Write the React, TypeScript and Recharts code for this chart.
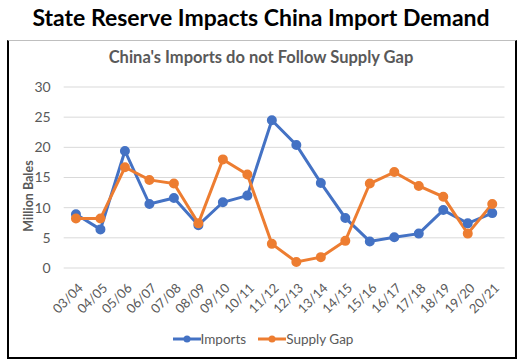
import React from "react";
import { LineChart, Line, XAxis, YAxis, CartesianGrid } from "recharts";

const seasons = ["03/04","04/05","05/06","06/07","07/08","08/09","09/10","10/11","11/12","12/13","13/14","14/15","15/16","16/17","17/18","18/19","19/20","20/21"];
const imports = [8.9, 6.4, 19.4, 10.6, 11.6, 7.1, 10.9, 12.0, 24.5, 20.4, 14.1, 8.3, 4.4, 5.1, 5.7, 9.6, 7.4, 9.1];
const supplyGap = [8.2, 8.2, 16.7, 14.6, 14.0, 7.4, 18.0, 15.5, 4.0, 1.0, 1.8, 4.5, 14.0, 15.9, 13.6, 11.8, 5.7, 10.6];
const yTicks = [0, 5, 10, 15, 20, 25, 30];

const data = seasons.map((s, i) => ({ season: s, imports: imports[i], supplyGap: supplyGap[i] }));

const BLUE = "#4472C4";
const ORANGE = "#ED7D31";
const FONT = "Lato, 'Open Sans', sans-serif";

const XTick = (props: any) => {
  const { x, y, payload } = props;
  return (
    <g transform={`translate(${x + 5},${y + 10})`}>
      <text textAnchor="end" transform="rotate(-45)" fill="#595959" fontSize={13} fontFamily={FONT} dy={4}>
        {payload.value}
      </text>
    </g>
  );
};

const LegendItem = ({ color, label }: { color: string; label: string }) => (
  <div style={{ display: "flex", alignItems: "center", marginRight: 12 }}>
    <svg width={28} height={10}>
      <line x1={0} y1={5} x2={28} y2={5} stroke={color} strokeWidth={3} />
      <circle cx={14} cy={5} r={3.5} fill={color} />
    </svg>
    <span style={{ fontSize: 13.5, color: "#595959", fontFamily: FONT }}>{label}</span>
  </div>
);

export default function App() {
  return (
    <div style={{ position: "fixed", left: 0, top: 0, width: 522, height: 364, background: "#fff", fontFamily: FONT }}>
      <div style={{ position: "absolute", left: 0, top: 3, width: 522, textAlign: "center", fontSize: 23, fontWeight: 700, color: "#000" }}>
        State Reserve Impacts China Import Demand
      </div>
      <div style={{ position: "absolute", left: 7, top: 40, width: 506, height: 316, borderLeft: "2px solid #000", borderRight: "2px solid #000", borderBottom: "2px solid #000", borderTop: "1px solid #BFBFBF" }} />
      <div style={{ position: "absolute", left: 0, top: 47, width: 522, textAlign: "center", fontSize: 16.5, fontWeight: 700, color: "#595959" }}>
        China's Imports do not Follow Supply Gap
      </div>
      <div style={{ position: "absolute", left: 28, top: 196, transform: "translate(-50%,-50%) rotate(-90deg)", transformOrigin: "center", whiteSpace: "nowrap", fontSize: 12.5, fontWeight: 700, color: "#595959" }}>
        Million Bales
      </div>
      <div style={{ position: "absolute", left: 0, top: 0 }}>
        <LineChart width={522} height={364} data={data} margin={{ top: 87, right: 17.5, bottom: 0, left: 0 }}>
          <CartesianGrid vertical={false} stroke="#D9D9D9" strokeWidth={1} />
          <XAxis dataKey="season" axisLine={false} tickLine={false} tick={<XTick />} interval={0} height={96} padding={{ left: 12.25, right: 12.25 }} />
          <YAxis domain={[0, 30]} ticks={yTicks} axisLine={false} tickLine={false} width={63.7} tick={{ fill: "#595959", fontSize: 14, fontFamily: FONT }} tickMargin={7} />
          <Line dataKey="imports" stroke={BLUE} strokeWidth={3} dot={{ r: 3.5, fill: BLUE, stroke: BLUE }} isAnimationActive={false} />
          <Line dataKey="supplyGap" stroke={ORANGE} strokeWidth={3} dot={{ r: 3.5, fill: ORANGE, stroke: ORANGE }} isAnimationActive={false} />
        </LineChart>
      </div>
      <div style={{ position: "absolute", left: 0, top: 331, width: 522, display: "flex", justifyContent: "center", paddingLeft: 8 }}>
        <LegendItem color={BLUE} label="Imports" />
        <LegendItem color={ORANGE} label="Supply Gap" />
      </div>
    </div>
  );
}
